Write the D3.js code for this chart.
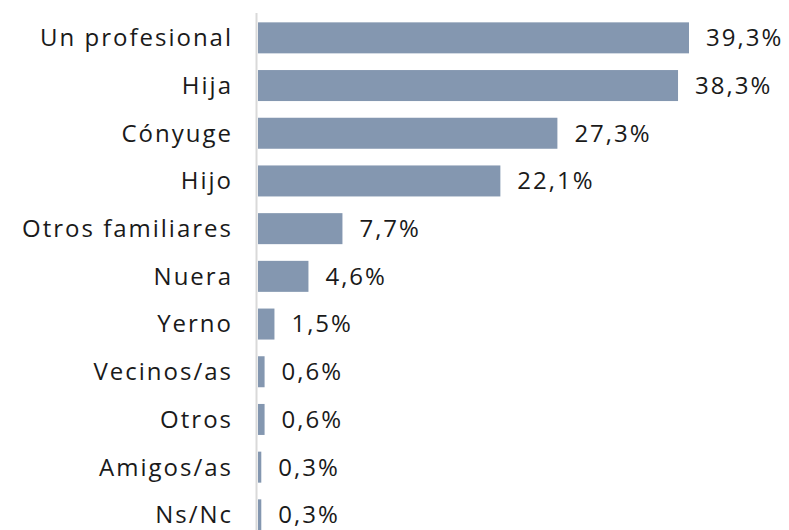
<!DOCTYPE html>
<html lang="es">
<head>
<meta charset="utf-8">
<script src="https://cdn.jsdelivr.net/npm/d3@7"></script>
<style>
  body { margin: 0; background: #fff; }
  text { font-family: "Open Sans", sans-serif; fill: #1a1a1a; }
</style>
</head>
<body>
<script>
const categories = ["Un profesional", "Hija", "Cónyuge", "Hijo", "Otros familiares", "Nuera", "Yerno", "Vecinos/as", "Otros", "Amigos/as", "Ns/Nc"];
const values = [39.3, 38.3, 27.3, 22.1, 7.7, 4.6, 1.5, 0.6, 0.6, 0.3, 0.3];
const labels = ["39,3%", "38,3%", "27,3%", "22,1%", "7,7%", "4,6%", "1,5%", "0,6%", "0,6%", "0,3%", "0,3%"];

const width = 789, height = 530;
const x0 = 258;

const svg = d3.select("body").append("svg")
  .attr("width", width)
  .attr("height", height);

const x = d3.scaleLinear()
  .domain([0, 39.3])
  .range([x0, 689]);

const y = d3.scaleBand()
  .domain(categories)
  .range([14, 14 + 11 * 47.7])
  .paddingInner(0.35)
  .paddingOuter(0.175);

// bars
svg.selectAll("rect.bar")
  .data(values)
  .enter()
  .append("rect")
  .attr("class", "bar")
  .attr("x", x(0))
  .attr("y", (d, i) => y(categories[i]))
  .attr("width", d => x(d) - x(0))
  .attr("height", y.bandwidth())
  .attr("fill", "#8497b0");

// vertical axis line
svg.append("line")
  .attr("x1", x0 - 1.5).attr("x2", x0 - 1.5)
  .attr("y1", 13).attr("y2", height)
  .attr("stroke", "#d9d9d9")
  .attr("stroke-width", 2);

// category labels
svg.selectAll("text.cat")
  .data(categories)
  .enter()
  .append("text")
  .attr("class", "cat")
  .attr("x", 233)
  .attr("y", d => y(d) + y.bandwidth() / 2)
  .attr("dy", "0.35em")
  .attr("text-anchor", "end")
  .style("font-size", "24px")
  .style("letter-spacing", "2px")
  .text(d => d);

// value labels
svg.selectAll("text.val")
  .data(values)
  .enter()
  .append("text")
  .attr("class", "val")
  .attr("x", d => x(d) + 17)
  .attr("y", (d, i) => y(categories[i]) + y.bandwidth() / 2)
  .attr("dy", "0.35em")
  .style("font-size", "24px")
  .style("letter-spacing", "2px")
  .text((d, i) => labels[i]);
</script>
</body>
</html>
